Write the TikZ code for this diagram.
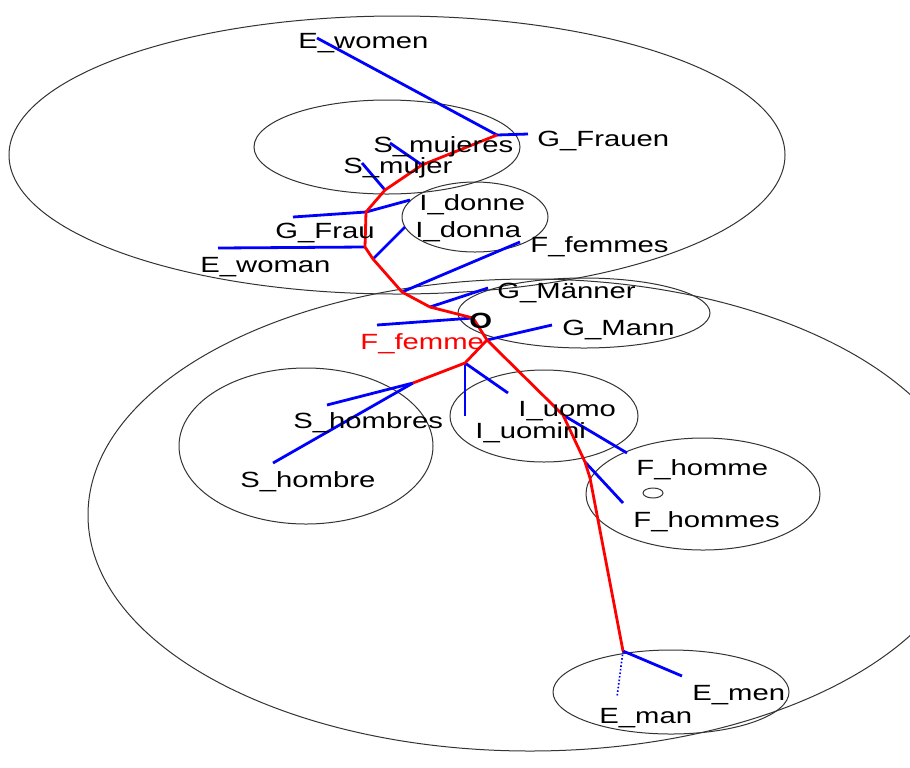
\documentclass[tikz,border=0pt]{standalone}
\usepackage{fontspec}
\setmainfont[FakeStretch=1.33]{Liberation Sans}

\begin{document}
\begin{tikzpicture}[x=0.5pt,y=-0.5pt,
  lbl/.style={font=\fontsize{11}{13}\selectfont,inner sep=0pt,anchor=base west},
  twig/.style={draw=treeblue,line width=1.4pt},
  trunk/.style={draw=treered,line width=1.4pt,line join=round},
  hull/.style={draw=black!80,line width=0.5pt}]
\definecolor{treeblue}{HTML}{0000FF}
\definecolor{treered}{HTML}{FF0000}
\clip (0,0) rectangle (910,767);
\fill[white] (0,0) rectangle (910,767);
% hulls round the groups
  \foreach \cx/\cy/\rx/\ry in {397/155/388/139,530/515/442/236,387/147/133/47,475/217/73/35,584/313/126/35,306/446/127/78,544/416/94/46,703/494/117/56,653/493/10/5,671/692/118/42}
  {  \draw[hull] (\cx,\cy) ellipse [x radius=\rx,y radius=\ry];}
% inner points of the tree
  \foreach \nm/\px/\py in {j1/497/135,j2/422/165,j3/385/190,j4/366/212,j5/365/247,j6/373/259,j7/402/292,j8/430/307,j9/473/318,j10/487/340,j11/465/363,j12/413/383,j13/563/415,j14/585/462,j15/590/478,j16/623/651}
  {  \coordinate (\nm) at (\px,\py);}
% tips of the leaves
  \foreach \nm/\px/\py in {ewomen/317/38,gfrauen/528/134,smujeres/390/143,smujer/362/163,idonne/410/200,gfrau/293/217,ewoman/218/248,idonna/405/227,ffemmes/520/242,gmaenner/488/288,ffemme/377/325,gmann/552/325,iuomo/508/393,iuomini/465/416,shombres/327/405,shombre/273/463,fhomme/627/453,fhommes/623/503,emen/682/676,eman/617/697}
  {  \coordinate (t-\nm) at (\px,\py);}
  \foreach \a/\b in {j1/ewomen,j1/gfrauen,j2/smujeres,j3/smujer,j4/idonne,j4/gfrau,j5/ewoman,j6/idonna,j7/ffemmes,j8/gmaenner,j9/ffemme,j10/gmann,j11/iuomo,j11/iuomini,j12/shombres,j12/shombre,j13/fhomme,j14/fhommes,j16/emen}
  {  \draw[twig] (\a) -- (t-\b);}
\draw[treeblue,densely dotted,line width=0.8pt] (j16) -- (t-eman);
\draw[trunk] (j1) -- (j2) -- (j3) -- (j4) -- (j5) -- (j6) -- (j7) -- (j8) -- (j9) -- (j10);
\draw[trunk] (j10) -- (j11) -- (j12);
\draw[trunk] (j10) -- (j13) -- (j14) -- (j15) -- (j16);
% word labels
  \foreach \nm/\px/\py/\txt in {ewomen/298/48/E\_women,gfrauen/537/146/G\_Frauen,smujeres/373/152/S\_mujeres,smujer/343/173/S\_mujer,idonne/419/210/I\_donne,idonna/415/237/I\_donna,gfrau/275/238/G\_Frau,ewoman/200/272/E\_woman,ffemmes/530/252/F\_femmes,gmaenner/497/298/G\_Männer,gmann/562/335/G\_Mann,shombres/293/428/S\_hombres,shombre/240/487/S\_hombre,iuomo/518/416/I\_uomo,iuomini/475/438/I\_uomini,fhomme/636/475/F\_homme,fhommes/633/527/F\_hommes,emen/692/700/E\_men,eman/599/723/E\_man}
  {  \node[lbl] (l-\nm) at (\px,\py) {\txt};}
\node[lbl,text=treered] (l-ffemme) at (360,349) {F\_femme};
\node[lbl,font=\fontsize{11}{13}\selectfont\bfseries] (root) at (469,328) {O};
\end{tikzpicture}
\end{document}
